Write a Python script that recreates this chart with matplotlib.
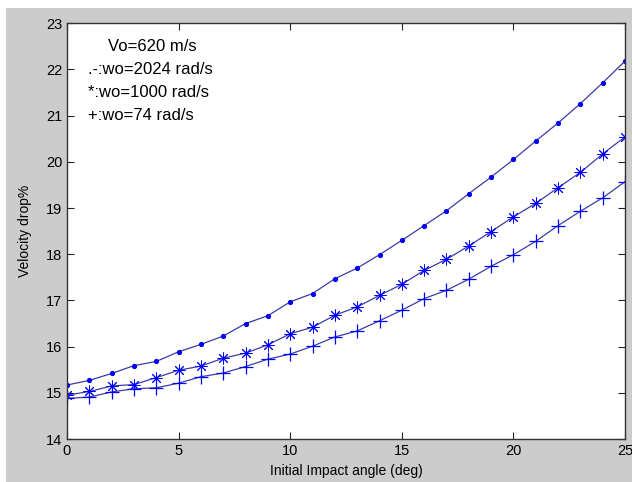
import numpy as np
import matplotlib
matplotlib.use("Agg")
import matplotlib.pyplot as plt
from matplotlib.patches import Rectangle

plt.rcParams['font.family'] = ['Liberation Sans', 'DejaVu Sans']

angle = list(range(26))
drop_2024 = [15.17, 15.27, 15.42, 15.59, 15.68, 15.89, 16.05, 16.23, 16.50, 16.67,
             16.97, 17.15, 17.47, 17.70, 17.99, 18.30, 18.62, 18.94, 19.31, 19.67,
             20.05, 20.45, 20.84, 21.26, 21.71, 22.18]
drop_1000 = [14.95, 15.03, 15.15, 15.18, 15.33, 15.49, 15.58, 15.75, 15.86, 16.04,
             16.28, 16.42, 16.68, 16.86, 17.11, 17.35, 17.65, 17.89, 18.18, 18.49,
             18.81, 19.10, 19.44, 19.77, 20.17, 20.54]
drop_74 = [14.88, 14.91, 15.02, 15.09, 15.11, 15.21, 15.35, 15.43, 15.57, 15.73,
           15.84, 16.01, 16.21, 16.34, 16.56, 16.79, 17.04, 17.22, 17.46, 17.74,
           17.99, 18.28, 18.62, 18.93, 19.22, 19.57]
notes = ["Vo=620 m/s", ".-:wo=2024 rad/s", "*:wo=1000 rad/s", "+:wo=74 rad/s"]

fig = plt.figure(figsize=(6.32, 4.82), dpi=100, facecolor='#cccccc')
ax = fig.add_axes([0.106, 0.089, 0.883, 0.863])

line_c = '#3c3ca8'
mk_c = '#0000ff'
ax.plot(angle, drop_2024, '-', color=line_c, lw=0.9, marker='.', ms=5.5,
        mfc=mk_c, mec=mk_c)
ax.plot(angle, drop_1000, '-', color=line_c, lw=0.9, marker=(8, 2, 0), ms=8.5,
        mec=mk_c, mew=0.7)
ax.plot(angle, drop_74, '-', color=line_c, lw=0.9, marker='+', ms=10,
        mec=mk_c, mew=0.9)

ax.text(1.85, 22.5, notes[0], fontsize=12, va='center')
ax.text(0.95, 22.0, notes[1], fontsize=12, va='center')
ax.text(0.95, 21.5, notes[2], fontsize=12, va='center')
ax.text(0.95, 21.0, notes[3], fontsize=12, va='center')

ax.set_xlim(0, 25)
ax.set_ylim(14, 23)
ax.set_xticks([0, 5, 10, 15, 20, 25])
ax.set_yticks(range(14, 24))
ax.tick_params(direction='in', length=5, width=0.8, top=True, right=True,
               labelsize=10.5, color='#222222')
for s in ax.spines.values():
    s.set_linewidth(1.0)
    s.set_color('#333333')
ax.set_xlabel("Initial Impact angle (deg)", fontsize=10, labelpad=4)
ax.set_ylabel("Velocity drop%", fontsize=10, labelpad=10)

fig.add_artist(Rectangle((0, 1 - 8 / 482), 1, 8 / 482, transform=fig.transFigure,
                         facecolor='white', edgecolor='none'))
fig.add_artist(Rectangle((0, 0), 6 / 632, 1, transform=fig.transFigure,
                         facecolor='white', edgecolor='none'))

fig.savefig("out.png", dpi=100, facecolor=fig.get_facecolor())
